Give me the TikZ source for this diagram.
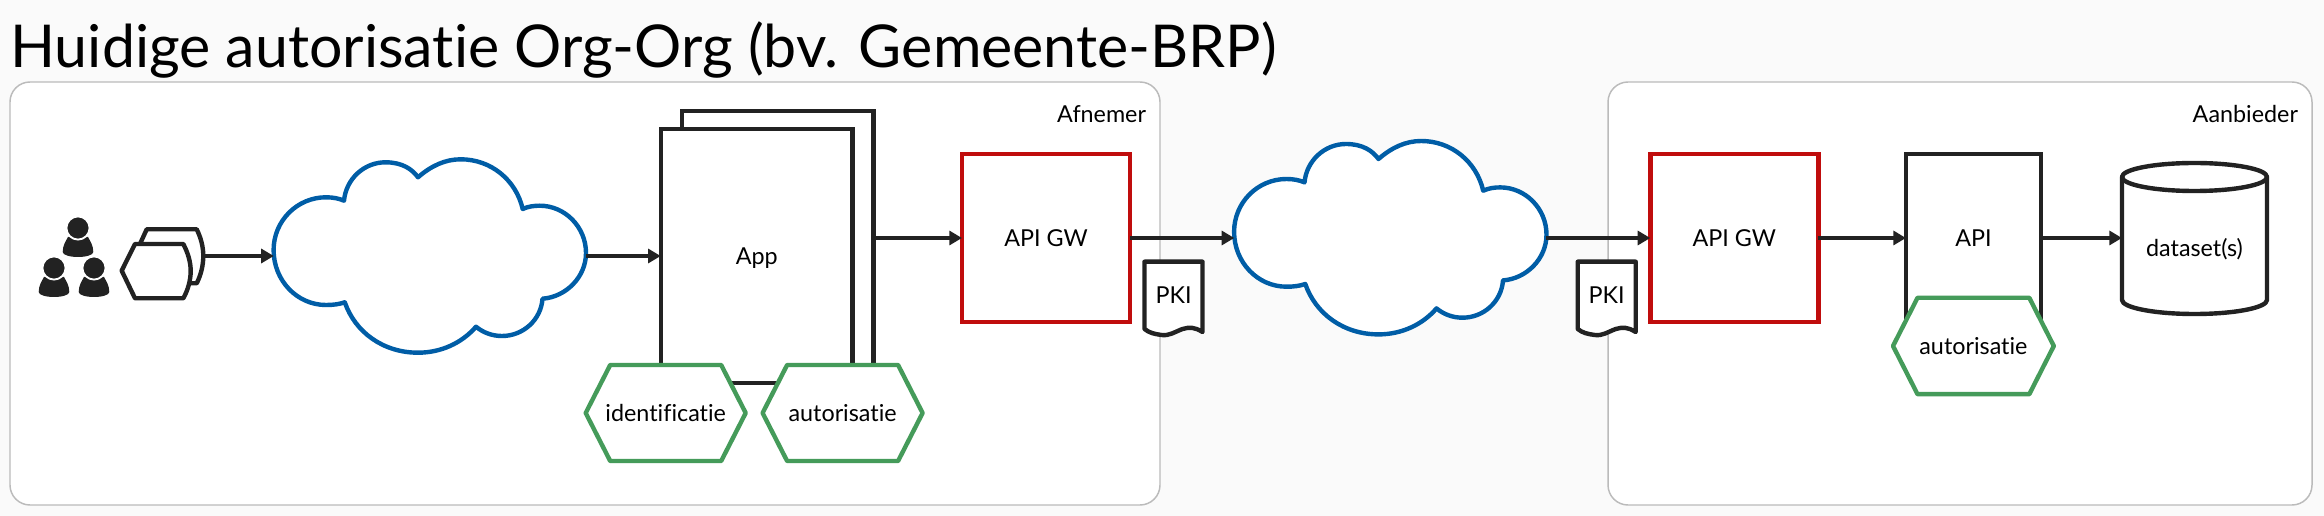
\documentclass[tikz,border=0pt]{standalone}
\usepackage{fontspec}
\setmainfont{Lato}[RawFeature={-liga;-clig;-dlig}]
\usetikzlibrary{arrows.meta}
\definecolor{pagebg}{HTML}{FAFAFA}
\definecolor{panelline}{HTML}{BBBBBB}
\definecolor{ink}{HTML}{222222}
\definecolor{redline}{HTML}{C00D0D}
\definecolor{blueline}{HTML}{005DA6}
\definecolor{greenline}{HTML}{459B5A}
\def\px{0.75pt}
\tikzset{
  panel/.style={draw=panelline,fill=white,line width=1.1pt,rounded corners=15pt},
  txt/.style={font=\fontsize{17.5pt}{21pt}\selectfont,text=black,inner sep=0pt,outer sep=0pt,text height=12.6pt,text depth=0pt},
  boxline/.style={draw=ink,fill=white,line width=3.3pt,outer sep=0pt,inner sep=0pt,txt},
  gwbox/.style={draw=redline,fill=white,line width=3.3pt,outer sep=0pt,minimum width=168*\px,minimum height=168*\px,txt},
  hexline/.style={draw=greenline,fill=white,line width=3.3pt,line join=round},
  cloudline/.style={draw=blueline,fill=white,line width=3.3pt,line join=round},
  darkline/.style={draw=ink,fill=white,line width=3.3pt,line join=round},
  link/.style={draw=ink,line width=2.4pt,-{Triangle[length=9.5pt,width=10.5pt]},shorten >=0pt},
  anchorbox/.style={minimum width=312*\px,minimum height=193*\px,inner sep=0pt,outer sep=0pt},
}
\newcommand{\hexat}[4]{% centre x, centre y, half width, half height (inset 24.5)
  \draw[hexline] (#1-#3,#2) -- (#1-#3+24.5,#2-#4) -- (#1+#3-24.5,#2-#4) -- (#1+#3,#2) -- (#1+#3-24.5,#2+#4) -- (#1-#3+24.5,#2+#4) -- cycle;}
\newcommand{\cloudshape}[1]{%
  \draw[cloudline,shift={(#1)}]
    (344.8,302.3) .. controls (339,304.3) and (333,305) .. (326,305)
    .. controls (297,305) and (273.6,280.5) .. (273.6,250)
    .. controls (273.6,221) and (297,197.3) .. (326,197.3)
    .. controls (333,197.3) and (339,198.5) .. (344,200.7)
    .. controls (346,179) and (364,162.3) .. (385.5,162.3)
    .. controls (402,162.3) and (412,169) .. (418,177.3)
    .. controls (431,166) and (445,159.3) .. (460.7,159.3)
    .. controls (491,159.3) and (516,180) .. (522.7,209)
    .. controls (528,206.5) and (534,205.7) .. (539.7,205.7)
    .. controls (565,205.7) and (586,227) .. (586,253)
    .. controls (586,277) and (566,297) .. (542.5,298.7)
    .. controls (541,320) and (523,336) .. (502,336)
    .. controls (492,336) and (483,332.5) .. (476,326.7)
    .. controls (462,343) and (441,352.7) .. (418,352.7)
    .. controls (383,352.7) and (355,332) .. (344.8,302.3) -- cycle;}
\newcommand{\person}[2]{%
  \fill[ink,shift={(#1,#2)}] (-15.3,24) .. controls (-15.3,17) and (-12,13) .. (-10,9)
    -- (10,9) .. controls (12,13) and (15.3,17) .. (15.3,24)
    .. controls (15.3,27) and (8,29) .. (0,29) .. controls (-8,29) and (-15.3,27) .. (-15.3,24) -- cycle;
  \draw[fill=ink,draw=white,line width=1.4pt] (#1,#2) circle[radius=11.6];}
\newcommand{\pkishape}[1]{%
  \draw[darkline,shift={(#1,0)}] (0,329) -- (0,261.7) -- (58,261.7) -- (58,332)
    .. controls (50,327) and (45,327) .. (38,329)
    .. controls (30,332) and (25,336) .. (17,335)
    .. controls (10,334) and (5,333) .. (0,329) -- cycle;}
\begin{document}
\begin{tikzpicture}[x=0.75pt,y=-0.75pt]
\useasboundingbox (0,0) rectangle (2324,516);
\fill[pagebg] (0,0) rectangle (2324,516);
\node[anchor=base west,inner sep=0pt,font=\fontsize{44.3pt}{52pt}\selectfont,text=black] (title) at (10,68) {Huidige autorisatie Org-Org (bv. Gemeente-BRP)};
% panels
\draw[panel] (10,82) rectangle (1160,505);
\draw[panel] (1608,82) rectangle (2312,505);
\node[txt,anchor=east] (afnemer) at (1146,114) {Afnemer};
\node[txt,anchor=east] (aanbieder) at (2298,114) {Aanbieder};
% people
\person{78}{228}
\person{54}{268}
\person{94}{268}
% component
\draw[darkline] (140,244) -- (146.7,229.3) -- (196.7,229.3) .. controls (201,238) and (203.3,247) .. (203.3,256) .. controls (203.3,265) and (201,275) .. (196.7,283.3) -- (190,283.3);
\draw[darkline] (121.7,270.7) -- (135,244) -- (183.3,244) .. controls (188,253) and (190.7,262) .. (190.7,271) .. controls (190.7,280) and (188,290) .. (183.3,298.3) -- (135,298.3) -- cycle;
\coordinate (compout) at (203.3,256);
% clouds
\cloudshape{0,0}
\cloudshape{960.5,-18.3}
\node[anchorbox] (cloudA) at (429.8,256) {};
\node[anchorbox] (cloudB) at (1390.3,238) {};
% app
\node[boxline,minimum width=191.5*\px,minimum height=254*\px] (appback) at (777.7,238) {};
\node[boxline,minimum width=191.9*\px,minimum height=254*\px] (app) at (756.7,256) {App};
\hexat{665.7}{413}{80}{48}
\node[txt] (hexid) at (665.7,413) {identificatie};
\hexat{842.6}{413}{80}{48}
\node[txt] (hexaut) at (842.6,413) {autorisatie};
% gateways
\node[gwbox] (gwA) at (1046,238) {API GW};
\node[gwbox] (gwB) at (1734.3,238) {API GW};
% PKI
\pkishape{1144.5}
\node[txt] (pkiA) at (1173.5,295) {PKI};
\pkishape{1577.7}
\node[txt] (pkiB) at (1606.7,295) {PKI};
% API
\node[boxline,minimum width=135*\px,minimum height=168*\px] (api) at (1973.5,238) {API};
\hexat{1973.4}{346}{80.4}{48.2}
\node[txt] (hexapi) at (1973.4,346) {autorisatie};
% dataset
\draw[darkline] (2122,177) -- (2122,300) .. controls (2122,307.7) and (2154.5,314) .. (2194.5,314) .. controls (2234.5,314) and (2267,307.7) .. (2267,300) -- (2267,177) -- cycle;
\draw[darkline] (2194.5,177) ellipse[x radius=72.5,y radius=14];
\node[inner sep=0pt,outer sep=0pt,minimum width=145*\px,minimum height=151*\px,txt] (data) at (2194.5,247.7) {dataset(s)};
% connectors
\draw[link] (compout) -- (cloudA.west);
\draw[link] (cloudA.east) -- (app.west);
\draw[link] (appback.east) -- (gwA.west);
\draw[link] (gwA.east) -- (cloudB.west);
\draw[link] (cloudB.east) -- (gwB.west);
\draw[link] (gwB.east) -- (api.west);
\draw[link] (api.east) -- (data.west |- api.east);
\end{tikzpicture}
\end{document}
